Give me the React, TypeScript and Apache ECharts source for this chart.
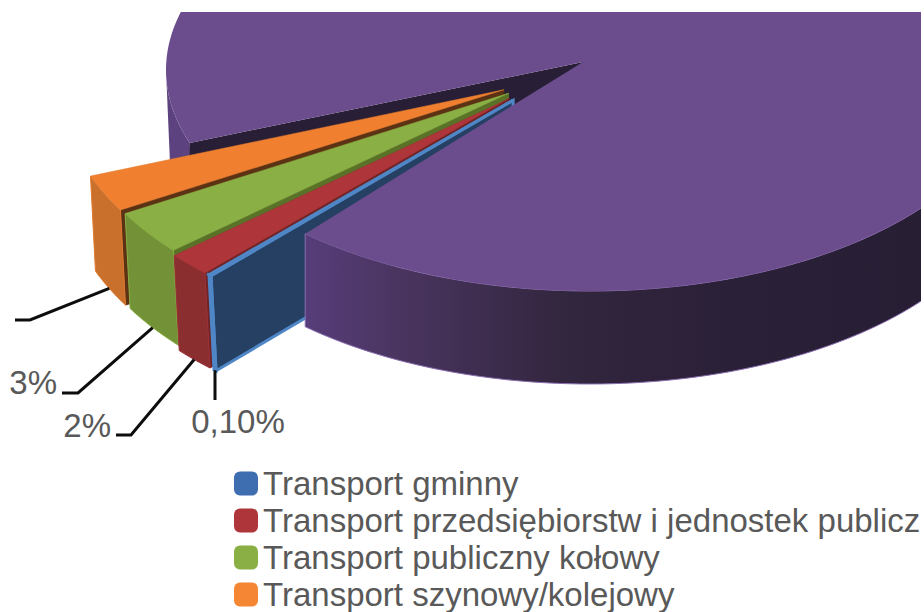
import React, { useEffect, useRef } from "react";
import * as echarts from "echarts";

const CATEGORIES = [
  "Transport gminny",
  "Transport przedsiębiorstw i jednostek publicznych",
  "Transport publiczny kołowy",
  "Transport szynowy/kolejowy",
];
const REST_NAME = "Pozostałe";
const VALUES = [0.1, 1.6, 3, 2.5];
const REST_VALUE = 92.8;
const LABELS = ["0,10%", "2%", "3%", ""];

const TOP_COLORS = ["#4A7EBB", "#AE3539", "#8AB045", "#F08030"];
const LEGEND_COLORS = ["#3E6DB0", "#AE3539", "#8AB045", "#F58634"];
const WALL_COLORS = ["#264063", "#8A2E30", "#739137", "#C8702C"];
const EDGE_COLORS = ["#4F86C6", "#9C3236", "#8AB045", "#E07A30"];
const RADIAL_COLORS = ["#264063", "#6E2326", "#5A7228", "#5C3214"];

const PURPLE_TOP = "#6B4C8C";
const PURPLE_SIDE = "#5C437F";
const PURPLE_GAP = "#281E36";

const START_DEG = 133;
const REST_EDGE_DEG = 132.2;
const REST_GAP_EXTRA = 2.6;
const TOTAL = VALUES.reduce((a, b) => a + b, 0) + REST_VALUE;
const DEG = Math.PI / 180;

const angleOf = (i: number) => {
  let sum = 0;
  for (let k = 0; k < i; k++) sum += VALUES[k];
  return START_DEG + (sum / TOTAL) * 360;
};
const REST_START = REST_EDGE_DEG + ((TOTAL - REST_VALUE) / TOTAL) * 360 + REST_GAP_EXTRA;

const arc = (cx: number, cy: number, rx: number, ry: number, a: number, b: number, dx = 0, dy = 0) => {
  const n = Math.max(2, Math.ceil(Math.abs(b - a)));
  const pts: number[][] = [];
  for (let i = 0; i <= n; i++) {
    const t = (a + ((b - a) * i) / n) * DEG;
    pts.push([cx + rx * Math.cos(t) + dx, cy + ry * Math.sin(t) + dy]);
  }
  return pts;
};

const APEX = [583, 62];
const ELL = { cx: 590, cy: 70, rx: 424, ry: 221, depth: 93 };
const SL = { cx: 585, cy: 66, rx: 443, ry: 240, depth: 95, shift: 5 };
const EXPLODE_X = [105, 105, 94, 90];
const EXPLODE_Y = [47, 47, 47, 55];

const LEADERS: number[][][] = [
  [[215, 400]],
  [[131, 435], [116, 435]],
  [[78, 393], [62, 393]],
  [[30, 320], [15, 320]],
];
const LABEL_POS = [[238, 421], [111, 425], [57, 382], [0, 0]];
const LABEL_ALIGN = ["center", "right", "right", "right"];

const sliceItem = (i: number) => () => {
  const a = angleOf(i);
  const b = angleOf(i + 1);
  const m = ((a + b) / 2) * DEG;
  const tx = SL.cx + EXPLODE_X[i] * Math.cos(m);
  const ty = SL.cy + EXPLODE_Y[i] * Math.sin(m);
  const outer = arc(tx, ty, SL.rx, SL.ry, a, b);
  const lower = arc(tx, ty, SL.rx, SL.ry, b, a, SL.shift, SL.depth);
  const start = outer[0];
  const children: any[] = [
    {
      type: "polygon",
      shape: { points: [[tx, ty], start, [start[0] + SL.shift, start[1] + SL.depth], [tx, ty + SL.depth]] },
      style: { fill: RADIAL_COLORS[i], stroke: i === 0 ? EDGE_COLORS[0] : RADIAL_COLORS[i], lineWidth: i === 0 ? 3 : 1 },
    },
    {
      type: "polygon",
      shape: { points: [...outer, ...lower] },
      style: { fill: WALL_COLORS[i], stroke: EDGE_COLORS[i], lineWidth: i === 0 ? 3 : 1 },
    },
    {
      type: "polygon",
      shape: { points: [[tx, ty], ...outer] },
      style: { fill: TOP_COLORS[i], stroke: EDGE_COLORS[i], lineWidth: i === 0 ? 3 : 0.5 },
    },
  ];
  const mid = (a + b) / 2;
  const mx = tx + SL.rx * Math.cos(mid * DEG) + SL.shift;
  const my = ty + SL.ry * Math.sin(mid * DEG) + SL.depth;
  children.push({
    type: "polyline",
    shape: { points: [[mx, my], ...LEADERS[i]] },
    style: { fill: "none", stroke: "#0D0D0D", lineWidth: 3 },
  });
  if (LABELS[i]) {
    children.push({
      type: "text",
      x: LABEL_POS[i][0],
      y: LABEL_POS[i][1],
      style: {
        text: LABELS[i],
        fontSize: 33,
        fontFamily: "Liberation Sans",
        fill: "#595959",
        align: LABEL_ALIGN[i],
        verticalAlign: "middle",
      },
    });
  }
  return { type: "group", children };
};

const restBack = () => {
  const { cx, cy, rx, ry, depth } = ELL;
  const top = arc(cx, cy, rx, ry, REST_START, 180);
  const low = arc(cx, cy, rx, ry, 180, REST_START, 4, depth);
  const e = top[0];
  return {
    type: "group",
    children: [
      { type: "polygon", shape: { points: [...top, ...low] }, style: { fill: PURPLE_SIDE } },
      {
        type: "polygon",
        shape: { points: [APEX, e, [e[0], e[1] + depth], [APEX[0], APEX[1] + depth]] },
        style: { fill: PURPLE_GAP },
      },
    ],
  };
};

const restFront = () => {
  const { cx, cy, rx, ry, depth } = ELL;
  const topFront = arc(cx, cy, rx, ry, REST_EDGE_DEG, -10);
  const lowFront = arc(cx, cy, rx, ry, -10, REST_EDGE_DEG, 0, depth);
  const face = arc(cx, cy, rx, ry, REST_START, REST_EDGE_DEG + 360);
  return {
    type: "group",
    children: [
      {
        type: "polygon",
        shape: { points: [...topFront, ...lowFront] },
        style: {
          fill: new echarts.graphic.LinearGradient(0, 0, 1, 0, [
            { offset: 0, color: "#573D7A" },
            { offset: 0.13, color: "#4A3560" },
            { offset: 0.36, color: "#33263F" },
            { offset: 0.6, color: "#2A2037" },
            { offset: 1, color: "#261D33" },
          ]),
          stroke: "#8A6DB0",
          lineWidth: 1,
        },
      },
      { type: "polygon", shape: { points: [APEX, ...face] }, style: { fill: PURPLE_TOP } },
    ],
  };
};

export default function App() {
  const ref = useRef<HTMLDivElement>(null);
  useEffect(() => {
    const chart = echarts.init(ref.current!, undefined, { renderer: "svg" });
    const sliceOrder = [3, 2, 1, 0];
    chart.setOption({
      animation: false,
      backgroundColor: "#ffffff",
      legend: {
        data: CATEGORIES,
        orient: "vertical",
        left: 229,
        top: 462,
        itemWidth: 24,
        itemHeight: 24,
        itemGap: 4,
        icon: "roundRect",
        selectedMode: false,
        textStyle: { fontSize: 33, color: "#595959", fontFamily: "Liberation Sans" },
      },
      series: [
        {
          type: "custom",
          name: REST_NAME,
          coordinateSystem: "none",
          data: [REST_VALUE],
          renderItem: restBack,
          itemStyle: { color: PURPLE_TOP },
          silent: true,
        },
        ...sliceOrder.map((i) => ({
          type: "custom",
          name: CATEGORIES[i],
          coordinateSystem: "none",
          data: [VALUES[i]],
          renderItem: sliceItem(i),
          itemStyle: { color: LEGEND_COLORS[i] },
          silent: true,
        })),
        {
          type: "custom",
          name: REST_NAME + " ",
          coordinateSystem: "none",
          data: [REST_VALUE],
          renderItem: restFront,
          itemStyle: { color: PURPLE_TOP },
          silent: true,
        },
      ],
    });
    return () => chart.dispose();
  }, []);
  return (
    <div style={{ position: "fixed", left: 0, top: 12, width: 921, height: 600, overflow: "hidden", background: "#fff" }}>
      <div ref={ref} style={{ position: "absolute", left: 0, top: -12, width: 1300, height: 700 }} />
    </div>
  );
}
